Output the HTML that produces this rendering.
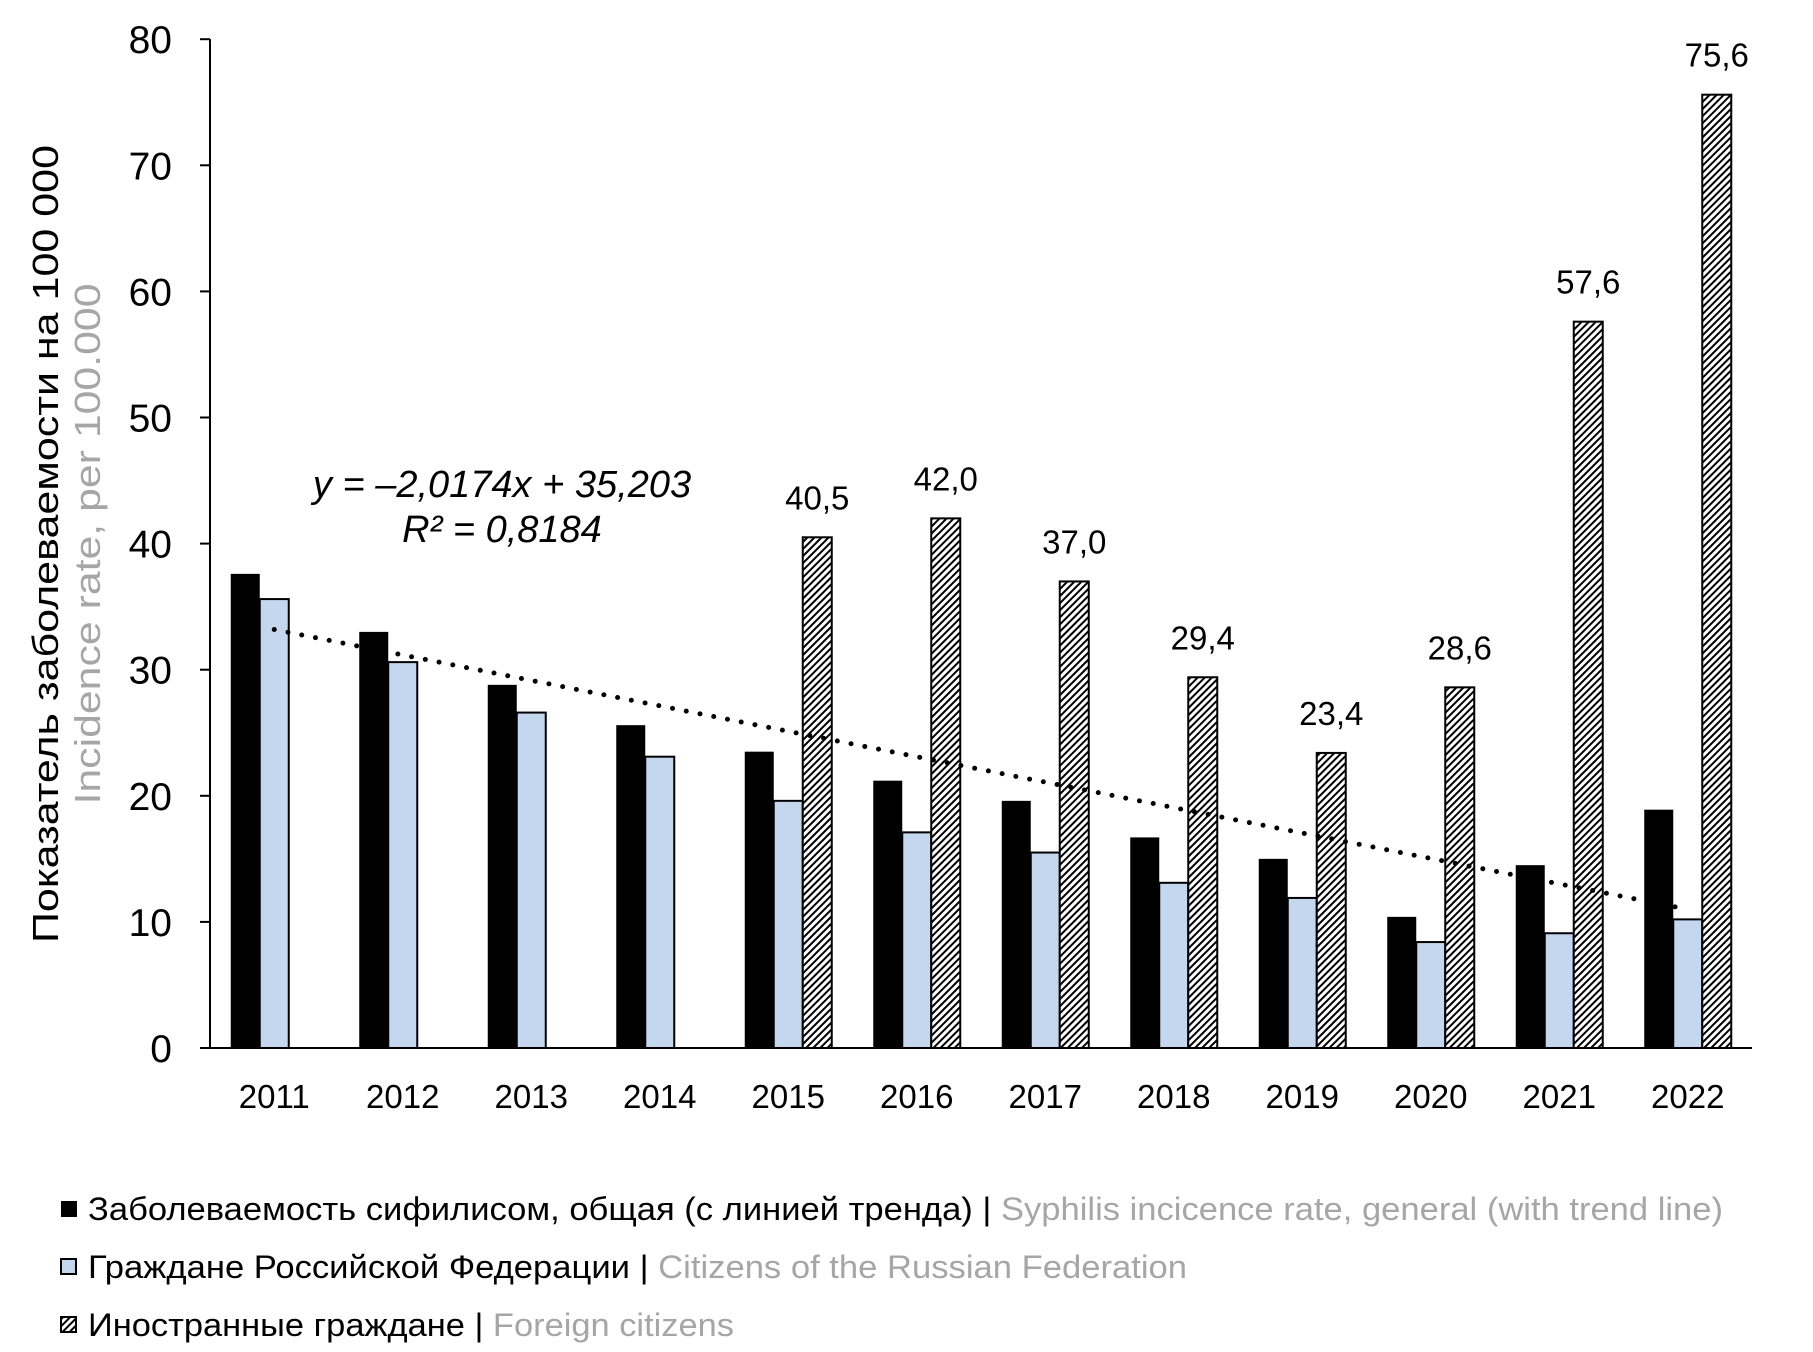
<!DOCTYPE html>
<html><head><meta charset="utf-8"><style>html,body{margin:0;padding:0;background:#fff}svg{display:block}</style></head><body>
<svg width="1813" height="1352" viewBox="0 0 1813 1352" xmlns="http://www.w3.org/2000/svg" font-family="'Liberation Sans', sans-serif">
<defs>
<pattern id="h" patternUnits="userSpaceOnUse" width="5" height="5" patternTransform="rotate(45)">
<rect width="5" height="5" fill="#fff"/><rect width="2" height="5" fill="#000"/>
</pattern>
</defs>
<rect width="1813" height="1352" fill="#fff"/>
<g id="bars"></g>
<script>
(function(){
var ns="http://www.w3.org/2000/svg",g=document.getElementById('bars');
var y0=1048,k=12.61,x0=210,cw=128.5,bw=29;
var B=[37.6,33.0,28.8,25.6,23.5,21.2,19.6,16.7,15.0,10.4,14.5,18.9];
var L=[35.6,30.6,26.6,23.1,19.6,17.1,15.5,13.1,11.9,8.4,9.1,10.2];
var F=[null,null,null,null,40.5,42.0,37.0,29.4,23.4,28.6,57.6,75.6];
function r(x,v,fill){var e=document.createElementNS(ns,'rect');e.setAttribute('x',x);e.setAttribute('y',y0-v*k);e.setAttribute('width',bw);e.setAttribute('height',v*k);e.setAttribute('fill',fill);if(fill!=='#000'){e.setAttribute('stroke','#000');e.setAttribute('stroke-width','2');}g.appendChild(e);}
function t(x,y,s,sz,anchor){var e=document.createElementNS(ns,'text');e.setAttribute('x',x);e.setAttribute('y',y);e.setAttribute('font-size',sz);e.setAttribute('text-anchor',anchor||'middle');e.textContent=s;g.appendChild(e);}
for(var i=0;i<12;i++){var c=x0+cw*(i+0.5),s=c-1.5*bw;
r(s,B[i],'#000');r(s+bw,L[i],'#c5d7ef');
if(F[i]!==null){r(s+2*bw,F[i],'url(#h)');t(s+2.5*bw,y0-F[i]*k-28,F[i].toFixed(1).replace('.',','),33);}
t(c,1108,String(2011+i),33);}
var d='';for(var i=0;i<12;i++){var c=x0+cw*(i+0.5),v=-2.0174*(i+1)+35.203;d+=(i?'L':'M')+c+' '+(y0-v*k);}
var p=document.createElementNS(ns,'path');p.setAttribute('d',d);p.setAttribute('stroke','#000');p.setAttribute('stroke-width','5');p.setAttribute('stroke-linecap','round');p.setAttribute('stroke-dasharray','0 14');p.setAttribute('fill','none');g.appendChild(p);
for(var j=0;j<=8;j++){var y=y0-j*10*k;var l=document.createElementNS(ns,'line');l.setAttribute('x1',200);l.setAttribute('x2',210);l.setAttribute('y1',y);l.setAttribute('y2',y);l.setAttribute('stroke','#000');l.setAttribute('stroke-width','2');g.appendChild(l);t(172,y+14,String(j*10),39,'end');}
})();
</script>
<line x1="210" y1="39" x2="210" y2="1048" stroke="#000" stroke-width="2"/>
<line x1="200" y1="1048" x2="1752" y2="1048" stroke="#000" stroke-width="2"/>
<text x="502" y="497" font-size="38" font-style="italic" text-anchor="middle">y = –2,0174x + 35,203</text>
<text x="502" y="542" font-size="38" font-style="italic" text-anchor="middle">R² = 0,8184</text>
<text transform="translate(58,544) rotate(-90)" font-size="36" text-anchor="middle" textLength="798" lengthAdjust="spacingAndGlyphs">Показатель заболеваемости на 100 000</text>
<text transform="translate(100,544) rotate(-90)" font-size="36" fill="#a6a6a6" text-anchor="middle" textLength="521" lengthAdjust="spacingAndGlyphs">Incidence rate, per 100.000</text>
<rect x="61" y="1201" width="16" height="16" fill="#000"/>
<text x="88" y="1220" font-size="32" textLength="1635" lengthAdjust="spacingAndGlyphs">Заболеваемость сифилисом, общая (с линией тренда) | <tspan fill="#a6a6a6">Syphilis incicence rate, general (with trend line)</tspan></text>
<rect x="61" y="1259" width="15" height="15" fill="#c5d7ef" stroke="#000" stroke-width="2"/>
<text x="88" y="1278" font-size="32" textLength="1099" lengthAdjust="spacingAndGlyphs">Граждане Российской Федерации | <tspan fill="#a6a6a6">Citizens of the Russian Federation</tspan></text>
<rect x="61" y="1317" width="15" height="15" fill="url(#h)" stroke="#000" stroke-width="2"/>
<text x="88" y="1336" font-size="32" textLength="646" lengthAdjust="spacingAndGlyphs">Иностранные граждане | <tspan fill="#a6a6a6">Foreign citizens</tspan></text>
</svg>
</body></html>
